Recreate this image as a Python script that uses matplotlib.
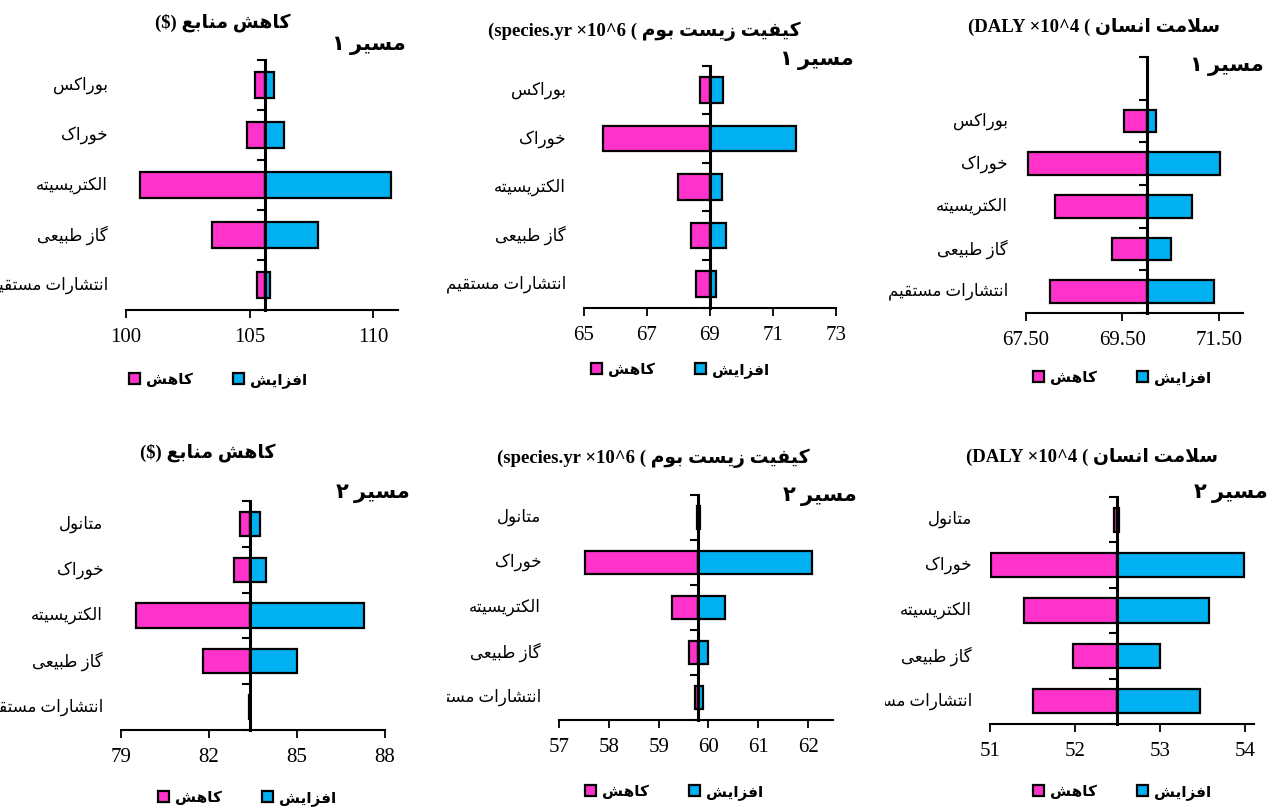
import matplotlib
matplotlib.use('Agg')
import matplotlib.pyplot as plt
from matplotlib.patches import Patch
from matplotlib.transforms import blended_transform_factory, ScaledTranslation, Bbox, TransformedBbox

plt.rcParams['font.family'] = ['Liberation Serif', 'DejaVu Sans']

# ---- data ----
cats_r1 = ['بوراکس', 'خوراک', 'الکتریسیته', 'گاز طبیعی', 'انتشارات مستقیم']
cats_r1_hh = ['', 'بوراکس', 'خوراک', 'الکتریسیته', 'گاز طبیعی', 'انتشارات مستقیم']
cats_r2 = ['متانول', 'خوراک', 'الکتریسیته', 'گاز طبیعی', 'انتشارات مستقیم']

res1_base = 105.63
res1_low = [105.2, 104.89, 100.56, 103.49, 105.3]
res1_high = [106.0, 106.37, 110.73, 107.78, 105.82]

eco1_base = 69.0
eco1_low = [68.67, 65.61, 67.97, 68.39, 68.57]
eco1_high = [69.41, 71.74, 69.39, 69.51, 69.2]

hh1_base = 70.0
hh1_low = [None, 69.53, 67.54, 68.11, 69.29, 68.0]
hh1_high = [None, 70.2, 71.52, 70.95, 70.5, 71.4]

res2_base = 83.39
res2_low = [83.05, 82.85, 79.52, 81.8, 83.37]
res2_high = [83.75, 83.96, 87.28, 85.0, 83.41]

eco2_base = 59.80
eco2_low = [59.78, 57.53, 59.26, 59.6, 59.72]
eco2_high = [59.83, 62.07, 60.34, 60.0, 59.89]

hh2_base = 52.49
hh2_low = [52.46, 51.01, 51.40, 51.98, 51.51]
hh2_high = [52.52, 53.98, 53.57, 53.0, 53.47]

title_res = 'کاهش منابع'
title_eco = 'کیفیت زیست بوم'
title_hh = 'سلامت انسان'
unit_res = '($)'
unit_eco = '(species.yr ×10^6 ('
unit_hh = '(DALY ×10^4 ('
route1 = 'مسیر ۱'
route2 = 'مسیر ۲'
leg_down = 'کاهش'
leg_up = 'افزایش'

PINK = '#FF33CC'
BLUE = '#00B0F0'

# ---- tiny persian shaper (matplotlib has no RTL / joining support) ----
DUAL = {'ب': 0xFE8F, 'ت': 0xFE95, 'ث': 0xFE99, 'ج': 0xFE9D, 'ح': 0xFEA1, 'خ': 0xFEA5,
        'س': 0xFEB1, 'ش': 0xFEB5, 'ص': 0xFEB9, 'ض': 0xFEBD, 'ط': 0xFEC1, 'ظ': 0xFEC5,
        'ع': 0xFEC9, 'غ': 0xFECD, 'ف': 0xFED1, 'ق': 0xFED5, 'ل': 0xFEDD, 'م': 0xFEE1,
        'ن': 0xFEE5, 'ه': 0xFEE9, 'ي': 0xFEF1, 'پ': 0xFB56, 'چ': 0xFB7A, 'ک': 0xFB8E,
        'گ': 0xFB92, 'ی': 0xFBFC}
RIGHT = {'ا': 0xFE8D, 'آ': 0xFE81, 'د': 0xFEA9, 'ذ': 0xFEAB, 'ر': 0xFEAD, 'ز': 0xFEAF,
         'و': 0xFEED, 'ژ': 0xFB8A}
MIRROR = {'(': ')', ')': '('}


def fa(text):
    out = []
    i = 0
    n = len(text)
    while i < n:
        c = text[i]
        prev = text[i - 1] if i > 0 else ''
        nxt = text[i + 1] if i + 1 < n else ''
        joins_prev = prev in DUAL
        if c == 'ل' and nxt == 'ا':
            out.append('\uFEFC' if joins_prev else '\uFEFB')
            i += 2
            continue
        if c in DUAL:
            joins_next = nxt in DUAL or nxt in RIGHT
            if joins_prev and joins_next:
                k = 3
            elif joins_prev:
                k = 1
            elif joins_next:
                k = 2
            else:
                k = 0
            out.append(chr(DUAL[c] + k))
        elif c in RIGHT:
            out.append(chr(RIGHT[c] + (1 if joins_prev else 0)))
        else:
            out.append(MIRROR.get(c, c))
        i += 1
    return ''.join(reversed(out))


W, H = 1274, 807
fig = plt.figure(figsize=(W / 100, H / 100), dpi=100)


def px(x, y):
    return x / W, 1 - y / H


panels = [
    dict(box=(126, 60, 398, 310), cats=cats_r1, low=res1_low, high=res1_high, base=res1_base,
         xlim=(100, 111), ticks=[100, 105, 110], fmt='{:.0f}', title=title_res, unit=unit_res,
         route=route1, t_xy=(223, 23), r_xy=(406, 45), l_xy=(218, 380), clip=0),
    dict(box=(584, 66, 836, 308), cats=cats_r1, low=eco1_low, high=eco1_high, base=eco1_base,
         xlim=(65, 73), ticks=[65, 67, 69, 71, 73], fmt='{:.0f}', title=title_eco, unit=unit_eco,
         route=route1, t_xy=(644, 31), r_xy=(854, 60), l_xy=(680, 370), clip=430),
    dict(box=(1026, 57, 1243, 313), cats=cats_r1_hh, low=hh1_low, high=hh1_high, base=hh1_base,
         xlim=(67.5, 72.0), ticks=[67.5, 69.5, 71.5], fmt='{:.2f}', title=title_hh, unit=unit_hh,
         route=route1, t_xy=(1094, 27), r_xy=(1264, 66), l_xy=(1122, 378), clip=880),
    dict(box=(121, 501, 385, 730), cats=cats_r2, low=res2_low, high=res2_high, base=res2_base,
         xlim=(79, 88), ticks=[79, 82, 85, 88], fmt='{:.0f}', title=title_res, unit=unit_res,
         route=route2, t_xy=(208, 453), r_xy=(410, 493), l_xy=(247, 798), clip=0),
    dict(box=(559, 495, 833, 720), cats=cats_r2, low=eco2_low, high=eco2_high, base=eco2_base,
         xlim=(57, 62.5), ticks=[57, 58, 59, 60, 61, 62], fmt='{:.0f}', title=title_eco, unit=unit_eco,
         route=route2, t_xy=(653, 458), r_xy=(857, 496), l_xy=(674, 792), clip=447),
    dict(box=(990, 497, 1254, 724), cats=cats_r2, low=hh2_low, high=hh2_high, base=hh2_base,
         xlim=(51, 54.1), ticks=[51, 52, 53, 54], fmt='{:.0f}', title=title_hh, unit=unit_hh,
         route=route2, t_xy=(1092, 457), r_xy=(1268, 493), l_xy=(1122, 792), clip=885),
]

for p in panels:
    x0, y0, x1, y1 = p['box']
    ax = fig.add_axes([x0 / W, 1 - y1 / H, (x1 - x0) / W, (y1 - y0) / H])
    n = len(p['cats'])
    base = p['base']
    for i, (lo, hi) in enumerate(zip(p['low'], p['high'])):
        if lo is None:
            continue
        ax.barh(i, base - lo, left=lo, height=0.53, color=PINK, edgecolor='black', linewidth=1.6, zorder=2)
        ax.barh(i, hi - base, left=base, height=0.53, color=BLUE, edgecolor='black', linewidth=1.6, zorder=2)

    ax.set_xlim(*p['xlim'])
    ax.set_ylim(n - 0.5, -0.5)
    ax.set_xticks(p['ticks'])
    ax.set_xticklabels([p['fmt'].format(t) for t in p['ticks']], fontsize=15)
    ax.set_yticks([k - 0.5 for k in range(n + 1)])
    ax.set_yticklabels([])
    ax.tick_params(axis='y', direction='out', length=6, width=1.5)
    ax.tick_params(axis='x', direction='out', length=6, width=1.3, pad=7)
    for s in ('top', 'right'):
        ax.spines[s].set_visible(False)
    ax.spines['left'].set_position(('data', base))
    ax.spines['left'].set_linewidth(2.2)
    ax.spines['left'].set_zorder(3)
    ax.spines['bottom'].set_linewidth(1.5)
    ax.patch.set_visible(False)

    # category labels, clipped like the original layout
    tr = blended_transform_factory(ax.transAxes, ax.transData) + \
        ScaledTranslation(-0.18, 0, fig.dpi_scale_trans)
    clipbox = TransformedBbox(Bbox.from_extents(p['clip'] / W, 0, 1, 1), fig.transFigure)
    for i, c in enumerate(p['cats']):
        if not c:
            continue
        t = ax.text(0, i, fa(c), transform=tr, ha='right', va='center', fontsize=12)
        t.set_clip_path(None)
        t.set_clip_box(clipbox)
        t.set_clip_on(True)

    tx, ty = px(*p['t_xy'])
    fig.text(tx, ty, p['unit'] + ' ' + fa(p['title']), ha='center', va='center',
             fontsize=13.5, fontweight='bold')
    rx, ry = px(*p['r_xy'])
    fig.text(rx, ry, fa(p['route']), ha='right', va='center', fontsize=15, fontweight='bold')

    handles = [Patch(facecolor=PINK, edgecolor='black', linewidth=1.6),
               Patch(facecolor=BLUE, edgecolor='black', linewidth=1.6)]
    lx, ly = px(*p['l_xy'])
    ax.legend(handles, [fa(leg_down), fa(leg_up)], loc='center', bbox_to_anchor=(lx, ly),
              bbox_transform=fig.transFigure, ncol=2, frameon=False, handlelength=0.75,
              handleheight=0.75, handletextpad=0.4, columnspacing=2.6,
              prop={'size': 11, 'weight': 'bold'})

fig.savefig('out.png', dpi=100)
